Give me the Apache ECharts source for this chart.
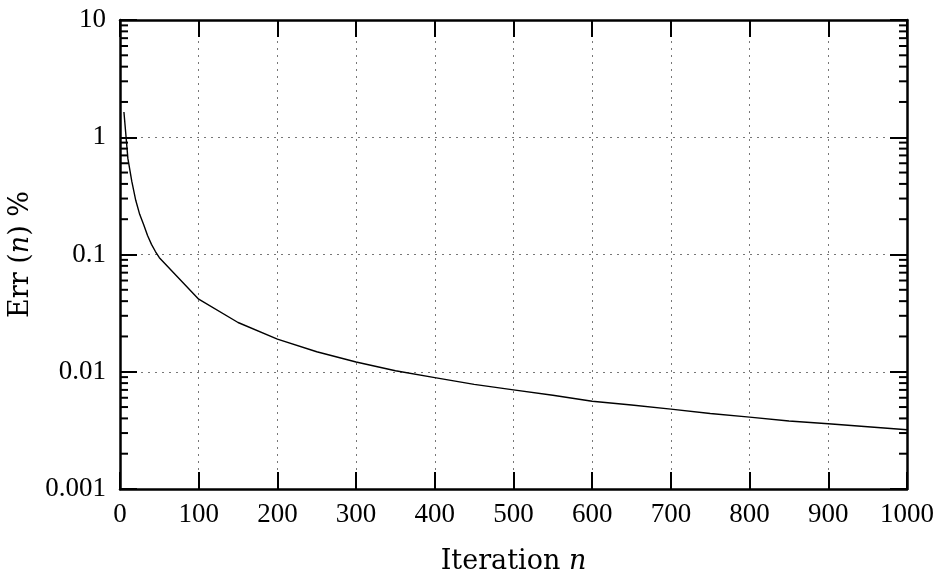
<!DOCTYPE html>
<html>
<head>
<meta charset="utf-8">
<script src="https://cdn.jsdelivr.net/npm/echarts@6/dist/echarts.min.js"></script>
<style>
  html, body { margin: 0; padding: 0; background: #fff; }
  #chart { width: 938px; height: 569px; }
</style>
</head>
<body>
<div id="chart"></div>
<script>
// iteration numbers and error (%)
const iterations = [5, 10, 15, 20, 25, 30, 35, 40, 45, 50, 100, 150, 200, 250, 300, 350, 400, 450, 500,
  550, 600, 650, 700, 750, 800, 850, 900, 950, 1000];
const errors = [1.64, 0.66, 0.42, 0.29, 0.22, 0.18, 0.145, 0.122, 0.106, 0.094, 0.0416, 0.0263, 0.019,
  0.0148, 0.0121, 0.0102, 0.0089, 0.0078, 0.0070, 0.0063, 0.0056, 0.0052, 0.0048, 0.0044, 0.0041,
  0.0038, 0.0036, 0.0034, 0.0032];
const yDecades = [0.001, 0.01, 0.1, 1];
const minorSteps = [2, 3, 4, 5, 6, 7, 8, 9];

const FONT = '"Liberation Serif", "DejaVu Serif", serif';
const TITLE_FONT = '"DejaVu Serif", serif';
const chart = echarts.init(document.getElementById('chart'));

// minor ticks of the log axis at 2..9 of every decade
const minorTicks = [];
yDecades.forEach(d => minorSteps.forEach(m => minorTicks.push([+(d * m).toPrecision(2)])));

const axisLine = { show: true, onZero: false, lineStyle: { color: '#000', width: 2.5 } };
const majorTick = { show: true, inside: true, length: 17, lineStyle: { color: '#000', width: 2 } };
const gridLine = { show: true, lineStyle: { color: '#777', width: 1, type: [2, 5] } };
const titleRich = {
  r: { fontFamily: TITLE_FONT, fontSize: 27, color: '#000' },
  i: { fontFamily: TITLE_FONT, fontSize: 27, fontStyle: 'italic', color: '#000' }
};

chart.setOption({
  animation: false,
  grid: { left: 120, right: 31, top: 20, bottom: 80, containLabel: false, outerBoundsMode: 'none' },
  xAxis: [{
    type: 'value',
    min: 0,
    max: 1000,
    interval: 100,
    name: '{r|Iteration }{i|n}',
    nameLocation: 'middle',
    nameGap: 59,
    nameTextStyle: { rich: titleRich },
    axisLine: axisLine,
    axisTick: majorTick,
    splitLine: gridLine,
    axisLabel: { fontFamily: FONT, fontSize: 27, color: '#000', margin: 12, formatter: v => String(v) }
  }, {
    type: 'value',
    position: 'top',
    min: 0,
    max: 1000,
    interval: 100,
    axisLine: axisLine,
    axisTick: majorTick,
    splitLine: { show: false },
    axisLabel: { show: false }
  }],
  yAxis: [{
    type: 'log',
    logBase: 10,
    min: 0.001,
    max: 10,
    name: '{r|Err (}{i|n}{r|) %}',
    nameLocation: 'middle',
    nameGap: 82,
    nameRotate: 90,
    nameTextStyle: { rich: titleRich },
    axisLine: axisLine,
    axisTick: majorTick,
    splitLine: gridLine,
    axisLabel: {
      fontFamily: FONT, fontSize: 27, color: '#000', margin: 14,
      formatter: v => String(+(+v).toPrecision(1))
    }
  }, {
    type: 'log',
    logBase: 10,
    min: 0.001,
    max: 10,
    position: 'right',
    axisLine: axisLine,
    axisTick: majorTick,
    splitLine: { show: false },
    axisLabel: { show: false }
  }],
  series: [{
    type: 'line',
    data: iterations.map((n, i) => [n, errors[i]]),
    showSymbol: false,
    symbol: 'none',
    lineStyle: { color: '#000', width: 1.4 },
    silent: true
  }, {
    type: 'custom',
    silent: true,
    clip: false,
    data: minorTicks,
    encode: { y: 0 },
    renderItem: (params, api) => {
      const v = api.value(0);
      const l = api.coord([0, v]);
      const r = api.coord([1000, v]);
      const style = { stroke: '#000', lineWidth: 2 };
      return {
        type: 'group',
        children: [
          { type: 'line', shape: { x1: l[0], y1: l[1], x2: l[0] + 8, y2: l[1] }, style: style },
          { type: 'line', shape: { x1: r[0] - 8, y1: r[1], x2: r[0], y2: r[1] }, style: style }
        ]
      };
    }
  }]
});
</script>
</body>
</html>
